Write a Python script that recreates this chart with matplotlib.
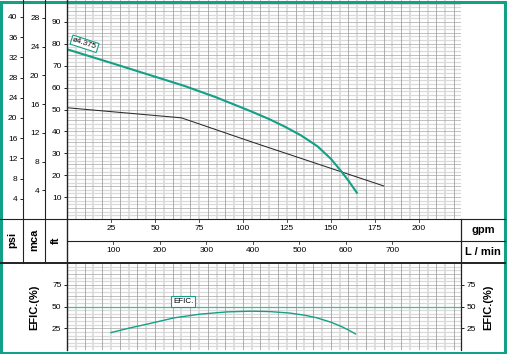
import matplotlib.pyplot as plt
from matplotlib.lines import Line2D
from matplotlib.patches import Rectangle

# pump curve (ft vs gpm)
curve_gpm = [0, 25, 50, 67, 85, 104.5, 115, 123.5, 133, 142.4, 150, 155.7, 160, 164.8]
curve_ft = [77.5, 71.3, 65, 60.7, 55.5, 49.2, 45.6, 42.3, 38.2, 33.2, 27.5, 22, 17.5, 12]
curve_label = 'ø4.375'

# second (black) curve
line_gpm = [0, 65, 105, 180]
line_ft = [50.8, 46.2, 35.2, 15.1]

# efficiency
eff_gpm = [25, 35, 47.7, 61, 76, 91, 104.5, 115, 127, 135, 142, 150, 156, 160, 164]
eff_pct = [20, 25, 30.7, 37, 41.3, 43.8, 44.6, 44.2, 42.4, 40, 37, 32, 27, 23, 18.5]
eff_ref = 50

gpm_ticks = [25, 50, 75, 100, 125, 150, 175, 200]
lmin_ticks = [100, 200, 300, 400, 500, 600, 700]
ft_ticks = [10, 20, 30, 40, 50, 60, 70, 80, 90]
mca_ticks = [4, 8, 12, 16, 20, 24, 28]
psi_ticks = [4, 8, 12, 16, 20, 24, 28, 32, 36, 40]
eff_ticks = [25, 50, 75]

TEAL = '#12a086'
W, H = 507, 354
GPM_MAX = 224
FT_MAX = 100


def fx(px):
    return px / W


def fy(py):
    return 1 - py / H


def box(x0, y0, x1, y1):
    return [fx(x0), fy(y1), fx(x1) - fx(x0), fy(y0) - fy(y1)]


fig = plt.figure(figsize=(5.07, 3.54), dpi=100)
plt.rcParams['font.family'] = ['Liberation Sans', 'DejaVu Sans']
fs = 6


def grid_top(ax, ymax, major, minor_n):
    for g in range(0, GPM_MAX + 1, 5):
        if g % 10 == 0:
            ax.axvline(g, color='#9a9a9a', lw=0.55, zorder=1)
        else:
            ax.axvline(g, color='#d6d6d6', lw=1.1, zorder=0.5)
    k = 0
    step = major / minor_n
    y = 0.0
    while y < ymax - 1e-6:
        if k % minor_n == 0:
            ax.axhline(y, color='#a5a5a5', lw=0.5, zorder=1)
        else:
            ax.axhline(y, color='#dadada', lw=0.9, zorder=0.5)
        k += 1
        y += step


# ---- top chart
ax = fig.add_axes(box(67, 0, 461, 219))
ax.set_xlim(0, GPM_MAX)
ax.set_ylim(0, FT_MAX)
grid_top(ax, FT_MAX, 5, 3)
ax.plot(curve_gpm, curve_ft, color=TEAL, lw=1.5, zorder=5)
ax.plot(line_gpm, line_ft, color='#2a2a2a', lw=0.75, zorder=4)
ax.text(10, 80, curve_label, rotation=-18, fontsize=5.8, ha='center', va='center', zorder=6,
        bbox=dict(boxstyle='square,pad=0.15', fc='white', ec=TEAL, lw=0.8))
ax.set_xticks([])
ax.set_yticks(ft_ticks)
ax.tick_params(axis='y', direction='out', length=2.5, width=0.6, labelsize=fs, pad=1.5)
for s in ax.spines.values():
    s.set_visible(False)

ax_m = ax.twinx()
ax_m.set_ylim(0, FT_MAX / 3.281)
ax_m.yaxis.tick_left()
ax_m.spines['left'].set_position(('axes', -22 / 394))
ax_m.set_yticks(mca_ticks)
ax_m.tick_params(axis='y', direction='out', length=2.5, width=0.6, labelsize=fs, pad=1.5)
for s in ax_m.spines.values():
    s.set_visible(False)

ax_p = ax.twinx()
ax_p.set_ylim(0, FT_MAX / 2.307)
ax_p.yaxis.tick_left()
ax_p.spines['left'].set_position(('axes', -44 / 394))
ax_p.set_yticks(psi_ticks)
ax_p.tick_params(axis='y', direction='out', length=2.5, width=0.6, labelsize=fs, pad=1.5)
for s in ax_p.spines.values():
    s.set_visible(False)

# ---- flow rows
ax_g = fig.add_axes(box(67, 219, 461, 241))
ax_g.set_xlim(0, GPM_MAX)
ax_g.set_ylim(0, 1)
ax_g.axis('off')
for t in gpm_ticks:
    ax_g.plot([t, t], [1, 0.86], color='#333333', lw=0.6)
    ax_g.text(t, 0.58, str(t), fontsize=fs, ha='center', va='center')

ax_l = fig.add_axes(box(67, 241, 461, 263))
ax_l.set_xlim(0, GPM_MAX * 3.785)
ax_l.set_ylim(0, 1)
ax_l.axis('off')
for t in lmin_ticks:
    ax_l.plot([t, t], [1, 0.86], color='#333333', lw=0.6)
    ax_l.text(t, 0.58, str(t), fontsize=fs, ha='center', va='center')

# ---- efficiency chart
ax_e = fig.add_axes(box(67, 263, 461, 350))
ax_e.set_xlim(0, GPM_MAX)
ax_e.set_ylim(0, 100)
grid_top(ax_e, 100, 12.5, 3)
ax_e.axhline(eff_ref, color='#3cbf9f', lw=0.9, zorder=4)
ax_e.text(66, eff_ref + 1.8, 'EFIC.', fontsize=5.8, ha='center', va='bottom', zorder=6,
          bbox=dict(boxstyle='square,pad=0.2', fc='white', ec=TEAL, lw=0.8))
ax_e.plot(eff_gpm, eff_pct, color=TEAL, lw=1.0, zorder=5)
ax_e.set_xticks([])
ax_e.set_yticks(eff_ticks)
ax_e.tick_params(axis='y', direction='out', length=2.5, width=0.6, labelsize=fs, pad=1.5,
                 left=True, right=True, labelleft=True, labelright=True)
for s in ax_e.spines.values():
    s.set_visible(False)

# ---- frame lines
def hline(y, x0, x1, c='#222222', lw=0.8):
    fig.add_artist(Line2D([fx(x0), fx(x1)], [fy(y), fy(y)], color=c, lw=lw))


def vline(x, y0, y1, c='#222222', lw=0.8):
    fig.add_artist(Line2D([fx(x), fx(x)], [fy(y0), fy(y1)], color=c, lw=lw))


vline(23, 0, 263)
vline(45, 0, 263)
vline(67, 0, 350, lw=1.0)
vline(461, 219, 350, lw=0.9)
hline(219, 0, 505)
hline(241, 67, 505)
hline(263, 0, 505, lw=1.4)

kw = dict(fontsize=8, fontweight='bold', ha='center', va='center')
fig.text(fx(12), fy(240), 'psi', rotation=90, **kw)
fig.text(fx(34), fy(240), 'mca', rotation=90, **kw)
fig.text(fx(56), fy(240), 'ft', rotation=90, **kw)
fig.text(fx(483), fy(230), 'gpm', **kw)
fig.text(fx(483), fy(252), 'L / min', **kw)
fig.text(fx(34), fy(307), 'EFIC.(%)', rotation=90, **kw)
fig.text(fx(488), fy(307), 'EFIC.(%)', rotation=90, **kw)

fig.add_artist(Rectangle((0.002, 0.004), 0.994, 0.991, transform=fig.transFigure,
                         fill=False, ec=TEAL, lw=2.2))

fig.savefig('out.png', dpi=100)
